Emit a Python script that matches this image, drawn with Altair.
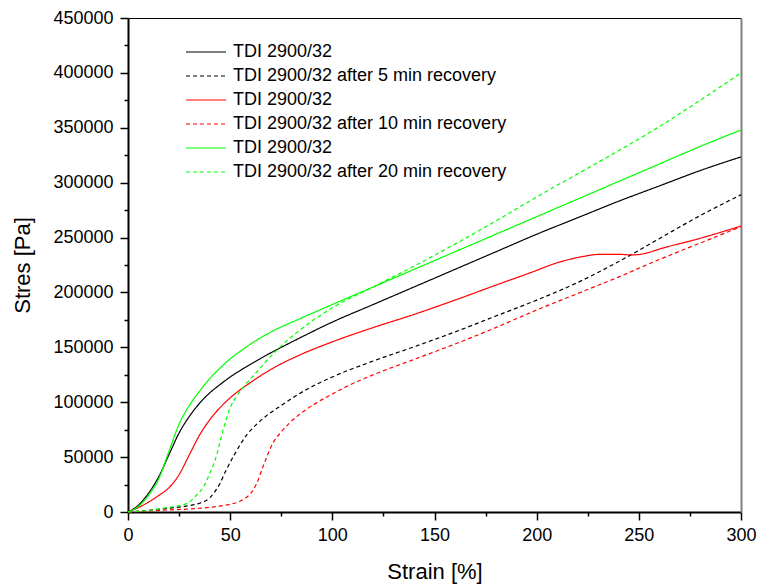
import altair as alt
import pandas as pd

# ---- data ----
series_keys = ["s1", "s2", "s3", "s4", "s5", "s6"]
series_labels = [
    "TDI 2900/32",
    "TDI 2900/32 after 5 min recovery",
    "TDI 2900/32",
    "TDI 2900/32 after 10 min recovery",
    "TDI 2900/32",
    "TDI 2900/32 after 20 min recovery",
]
series_colors = ["#000000", "#000000", "#ff0000", "#ff0000", "#00ff00", "#00ff00"]

black_x = [0, 5, 10, 15, 20, 25, 30, 35, 40, 45, 50, 55, 65, 75, 84, 100, 120, 140, 160, 180, 200, 220, 240, 260, 280, 300]
black_y = [0, 6000, 17000, 32000, 52000, 72000, 87000, 99000, 108500, 116000, 123000, 129000, 140000, 150000, 158500,
           173000, 189000, 205000, 221000, 237000, 253000, 268000, 283000, 297000, 311000, 323500]

black5_x = [0, 10, 20, 29, 35, 40, 45, 48, 52, 58, 63, 68, 75, 84, 100, 120, 140, 160, 180, 200, 220, 240, 260, 280, 300]
black5_y = [0, 1500, 3500, 5500, 8000, 13000, 26000, 38000, 52000, 70000, 80000, 88000, 97000, 108000,
            123000, 137500, 150500, 164000, 178500, 193000, 209000, 228000, 249000, 270000, 289000]

red_x = [0, 5, 10, 15, 20, 25, 30, 35, 40, 45, 50, 60, 70, 84, 100, 120, 140, 160, 182, 197, 210, 222, 231, 240, 247, 253, 260, 280, 300]
red_y = [0, 4000, 9000, 15000, 22000, 34000, 52000, 70000, 84000, 95000, 104000, 118000, 130000, 143000,
         155000, 168000, 180000, 193000, 208000, 218000, 227000, 232500, 234700, 234700, 234200, 235500, 239500, 249300, 260500]

red10_x = [0, 10, 19, 35, 48, 55, 60, 63, 66, 71, 75, 79, 84, 91, 100, 110, 120, 140, 160, 180, 200, 220, 240, 260, 280, 300]
red10_y = [0, 1000, 1800, 3400, 6400, 10000, 17000, 26000, 41000, 63000, 73000, 81000, 89000, 98000,
           107500, 117000, 125000, 139000, 153000, 168000, 184000, 199000, 214000, 230000, 245000, 260000]

green_x = [0, 5, 10, 15, 20, 25, 30, 35, 40, 45, 50, 55, 60, 70, 84, 100, 120, 140, 160, 180, 200, 220, 240, 260, 280, 300]
green_y = [0, 5000, 15000, 30000, 55000, 80000, 97000, 110000, 121500, 131000, 139500, 146500, 153000, 164000,
           176000, 189000, 205000, 221000, 237000, 253000, 269000, 285000, 301000, 317000, 333000, 348000]

green20_x = [0, 10, 19, 29, 33.6, 37, 40, 42.6, 46.6, 50, 53, 57, 62, 71, 84, 100, 120, 140, 160, 180, 200, 220, 240, 260, 280, 300]
green20_y = [0, 1500, 4000, 7900, 15500, 23000, 35000, 47000, 75000, 95000, 105000, 115000, 125500, 144000, 165500,
             186000, 205000, 224000, 244000, 265000, 287000, 308000, 329000, 351000, 375000, 400000]

x_major = [0, 50, 100, 150, 200, 250, 300]
x_minor = [25, 75, 125, 175, 225, 275]
y_major = [0, 50000, 100000, 150000, 200000, 250000, 300000, 350000, 400000, 450000]
y_minor = [25000, 75000, 125000, 175000, 225000, 275000, 325000, 375000, 425000]

curves = [(black_x, black_y), (black5_x, black5_y), (red_x, red_y),
          (red10_x, red10_y), (green_x, green_y), (green20_x, green20_y)]

rows = []
for key, (xs, ys) in zip(series_keys, curves):
    for xv, yv in zip(xs, ys):
        rows.append({"series": key, "strain": xv, "stress": yv})
df = pd.DataFrame(rows)

FONT = "Liberation Sans"
dashes = [[1, 0], [4, 3], [1, 0], [4, 3], [1, 0], [4, 3]]

label_expr = " : ".join(
    f"datum.value == '{k}' ? '{l}'" for k, l in zip(series_keys[:-1], series_labels[:-1])
) + f" : '{series_labels[-1]}'"

xscale = alt.Scale(domain=[0, 300], nice=False, zero=False)
yscale = alt.Scale(domain=[0, 450000], nice=False, zero=False)

common_axis = dict(grid=False, tickColor="black", domainColor="black", labelColor="black",
                   labelFont=FONT, titleFont=FONT, titleColor="black", titleFontWeight="normal")

legend = alt.Legend(
    title=None, orient="none", legendX=67, legendY=23, symbolType="M-2,0H2",
    symbolSize=400, symbolStrokeWidth=1.2, symbolFillColor="transparent",
    labelFont=FONT, labelFontSize=18,
    labelColor="black", labelOffset=16, rowPadding=4, padding=0, labelLimit=600,
    labelExpr=label_expr,
)

lines = alt.Chart(df).mark_line(strokeWidth=1.2, interpolate="monotone").encode(
    x=alt.X("strain:Q", scale=xscale, title="Strain [%]",
            axis=alt.Axis(orient="bottom", values=x_major, tickSize=8, tickWidth=1.5, domainWidth=2,
                          labelFontSize=18, labelPadding=6, titleFontSize=22, titlePadding=17,
                          labelFlush=False, **common_axis)),
    y=alt.Y("stress:Q", scale=yscale, title="Stres [Pa]",
            axis=alt.Axis(orient="left", values=y_major, tickSize=8, tickWidth=1.5, domainWidth=2,
                          labelFontSize=18, labelPadding=7, titleFontSize=22, titlePadding=18,
                          format="d", labelFlush=False, **common_axis)),
    color=alt.Color("series:N", scale=alt.Scale(domain=series_keys, range=series_colors), legend=legend),
    strokeDash=alt.StrokeDash("series:N", scale=alt.Scale(domain=series_keys, range=dashes), legend=legend),
)

minor = alt.Chart(df).mark_line(opacity=0).encode(
    x=alt.X("strain:Q", scale=xscale, title=None,
            axis=alt.Axis(orient="bottom", values=x_minor, tickSize=4, tickWidth=1.5, labels=False,
                          domain=False, **common_axis)),
    y=alt.Y("stress:Q", scale=yscale, title=None,
            axis=alt.Axis(orient="left", values=y_minor, tickSize=4, tickWidth=1.5, labels=False,
                          domain=False, **common_axis)),
    detail="series:N",
)

frame = alt.Chart(df).mark_line(opacity=0).encode(
    x=alt.X("strain:Q", scale=xscale, title=None,
            axis=alt.Axis(orient="top", ticks=False, labels=False, domain=True, domainWidth=1,
                          grid=False, domainColor="black")),
    y=alt.Y("stress:Q", scale=yscale, title=None,
            axis=alt.Axis(orient="right", ticks=False, labels=False, domain=True, domainWidth=2,
                          grid=False, domainColor="#808080")),
    detail="series:N",
)

chart = alt.layer(lines, minor, frame).resolve_axis(x="independent", y="independent").properties(
    width=613, height=494,
    autosize=alt.AutoSizeParams(type="none"),
    padding={"left": 128, "top": 18, "right": 17, "bottom": 76},
    background="white",
).configure_view(stroke=None)

chart.save("out.html", embed_options={"renderer": "svg", "actions": False})
